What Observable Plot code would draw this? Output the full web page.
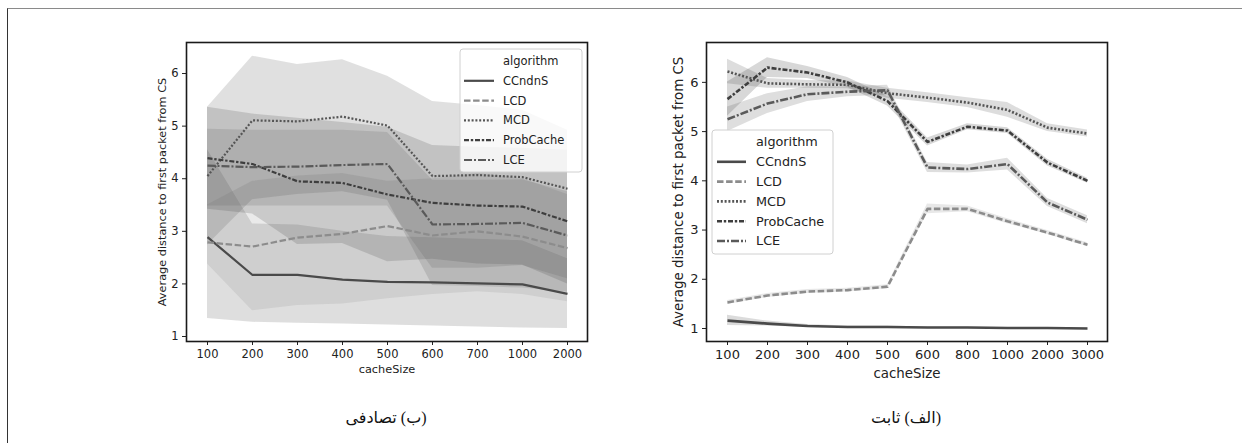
<!DOCTYPE html>
<html>
<head>
<meta charset="utf-8">
<script src="https://cdn.jsdelivr.net/npm/d3@7"></script>
<script src="https://cdn.jsdelivr.net/npm/@observablehq/plot@0.6"></script>
<style>
  html, body { margin: 0; padding: 0; background: #fff; }
  #page { position: relative; width: 1242px; height: 443px; overflow: hidden; background: #fff; }
  #frame { position: absolute; left: 7px; top: 8px; width: 1240px; height: 440px;
           border-top: 1.5px solid #8a8a8a; border-left: 1.5px solid #333; }
  .panel { position: absolute; top: 0; }
  .caption { position: absolute; top: 408px; width: 300px; text-align: center; direction: rtl;
             font-family: "Liberation Serif", "DejaVu Serif", "DejaVu Sans", serif; font-size: 16px; color: #111; }
</style>
</head>
<body>
<div id="page">
  <div id="frame"></div>
  <div id="left" class="panel" style="left:100px"></div>
  <div id="right" class="panel" style="left:620px"></div>
  <div class="caption" style="left:236px">(ب) تصادفی</div>
  <div class="caption" style="left:756px">(الف) ثابت</div>
</div>
<script>
// ---------- data ----------
const algorithms = ["CCndnS", "LCD", "MCD", "ProbCache", "LCE"];
const yTicks = [1, 2, 3, 4, 5, 6];
const yLabel = "Average distance to first packet from CS";
const xLabel = "cacheSize";
const legendTitle = "algorithm";

// left panel (random placement)
const cacheLeft = ["100", "200", "300", "400", "500", "600", "700", "1000", "2000"];
const randCCndnS   = [2.89, 2.17, 2.17, 2.08, 2.04, 2.03, 2.01, 1.99, 1.81];
const randCCndnSLo = [1.34, 1.27, 1.25, 1.24, 1.22, 1.20, 1.18, 1.16, 1.15];
const randCCndnSHi = [4.55, 3.14, 3.12, 3.00, 2.90, 2.88, 2.85, 2.82, 2.48];
const randLCD      = [2.79, 2.71, 2.88, 2.95, 3.10, 2.92, 3.00, 2.90, 2.68];
const randLCDLo    = [2.38, 1.49, 1.59, 1.62, 1.72, 1.80, 1.85, 1.80, 1.66];
const randLCDHi    = [3.50, 3.95, 4.05, 4.10, 3.95, 4.00, 4.10, 4.00, 3.70];
const randMCD      = [4.05, 5.11, 5.09, 5.18, 5.01, 4.05, 4.07, 4.03, 3.81];
const randMCDLo    = [2.74, 3.60, 3.70, 3.75, 3.59, 1.97, 1.95, 1.92, 1.84];
const randMCDHi    = [5.36, 6.33, 6.17, 6.26, 5.95, 5.47, 5.39, 5.30, 4.92];
const randProb     = [4.39, 4.28, 3.95, 3.92, 3.70, 3.54, 3.49, 3.47, 3.19];
const randProbLo   = [3.42, 3.33, 2.75, 2.77, 2.42, 2.47, 2.38, 2.36, 2.00];
const randProbHi   = [5.36, 5.23, 5.15, 5.07, 4.98, 4.63, 4.60, 4.58, 4.54];
const randLCE      = [4.25, 4.22, 4.23, 4.26, 4.28, 3.13, 3.14, 3.16, 2.92];
const randLCELo    = [3.48, 3.48, 3.48, 3.48, 3.48, 2.30, 2.30, 2.35, 2.10];
const randLCEHi    = [4.94, 4.92, 4.92, 4.92, 4.88, 3.97, 3.97, 3.98, 3.75];

// right panel (fixed placement)
const cacheRight = ["100", "200", "300", "400", "500", "600", "800", "1000", "2000", "3000"];
const fixCCndnS   = [1.16, 1.10, 1.05, 1.03, 1.03, 1.02, 1.02, 1.01, 1.01, 1.00];
const fixCCndnSLo = [1.06, 1.05, 1.02, 1.01, 1.01, 1.01, 1.01, 1.00, 1.00, 0.99];
const fixCCndnSHi = [1.27, 1.15, 1.08, 1.05, 1.05, 1.03, 1.03, 1.02, 1.02, 1.01];
const fixLCD      = [1.53, 1.67, 1.75, 1.78, 1.85, 3.43, 3.43, 3.18, 2.95, 2.70];
const fixLCDLo    = [1.49, 1.63, 1.71, 1.74, 1.81, 3.33, 3.37, 3.13, 2.91, 2.66];
const fixLCDHi    = [1.57, 1.71, 1.79, 1.82, 1.89, 3.53, 3.49, 3.23, 2.99, 2.74];
const fixMCD      = [6.22, 5.98, 5.96, 5.95, 5.78, 5.69, 5.59, 5.44, 5.08, 4.96];
const fixMCDLo    = [5.97, 5.88, 5.88, 5.87, 5.68, 5.59, 5.49, 5.29, 5.00, 4.89];
const fixMCDHi    = [6.47, 6.08, 6.04, 6.03, 5.88, 5.79, 5.69, 5.59, 5.16, 5.03];
const fixProb     = [5.66, 6.30, 6.20, 6.00, 5.62, 4.79, 5.10, 5.02, 4.37, 4.00];
const fixProbLo   = [5.31, 6.10, 6.08, 5.90, 5.52, 4.71, 5.04, 4.96, 4.30, 3.95];
const fixProbHi   = [6.01, 6.50, 6.32, 6.10, 5.72, 4.87, 5.16, 5.08, 4.44, 4.05];
const fixLCE      = [5.25, 5.57, 5.76, 5.81, 5.84, 4.27, 4.24, 4.34, 3.56, 3.21];
const fixLCELo    = [5.00, 5.37, 5.61, 5.71, 5.74, 4.17, 4.16, 4.22, 3.48, 3.13];
const fixLCEHi    = [5.50, 5.77, 5.91, 5.91, 5.94, 4.37, 4.32, 4.46, 3.64, 3.29];

// ---------- styles ----------
const styles = {
  CCndnS:    {stroke: "#4a4a4a", dash: "none"},
  LCD:       {stroke: "#8c8c8c", dash: "6.5,2.6"},
  MCD:       {stroke: "#555555", dash: "2,1.8"},
  ProbCache: {stroke: "#3e3e3e", dash: "5,1.8,2.4,1.8"},
  LCE:       {stroke: "#5a5a5a", dash: "8,2,2,2"}
};

function rows(cats, mean, lo, hi) {
  return cats.map((c, i) => ({cat: c, mean: mean[i], lo: lo[i], hi: hi[i]}));
}

const leftSeries = {
  CCndnS: rows(cacheLeft, randCCndnS, randCCndnSLo, randCCndnSHi),
  LCD: rows(cacheLeft, randLCD, randLCDLo, randLCDHi),
  MCD: rows(cacheLeft, randMCD, randMCDLo, randMCDHi),
  ProbCache: rows(cacheLeft, randProb, randProbLo, randProbHi),
  LCE: rows(cacheLeft, randLCE, randLCELo, randLCEHi)
};
const rightSeries = {
  CCndnS: rows(cacheRight, fixCCndnS, fixCCndnSLo, fixCCndnSHi),
  LCD: rows(cacheRight, fixLCD, fixLCDLo, fixLCDHi),
  MCD: rows(cacheRight, fixMCD, fixMCDLo, fixMCDHi),
  ProbCache: rows(cacheRight, fixProb, fixProbLo, fixProbHi),
  LCE: rows(cacheRight, fixLCE, fixLCELo, fixLCEHi)
};

function makePanel(cfg) {
  const marks = [];
  for (const a of algorithms) {
    marks.push(Plot.areaY(cfg.series[a], {x: "cat", y1: "lo", y2: "hi",
      fill: styles[a].stroke, fillOpacity: cfg.bandOpacity}));
  }
  for (const a of algorithms) {
    marks.push(Plot.line(cfg.series[a], {x: "cat", y: "mean", stroke: styles[a].stroke,
      strokeWidth: cfg.lineWidth, strokeDasharray: styles[a].dash, strokeLinecap: "butt",
      className: "ser-" + a}));
  }
  marks.push(Plot.frame({stroke: "#1a1a1a", strokeWidth: 1.6}));
  marks.push(Plot.text([yLabel], {frameAnchor: "left", rotate: -90, dx: cfg.yLabelDx,
    text: d => d, fontSize: cfg.labelSize, fill: "#222", textAnchor: "middle", lineAnchor: "middle"}));
  marks.push(Plot.text([xLabel], {frameAnchor: "bottom", dy: cfg.xLabelDy,
    text: d => d, fontSize: cfg.labelSize, fill: "#222", textAnchor: "middle", lineAnchor: "middle"}));

  const svg = Plot.plot({
    width: 500, height: 380,
    marginLeft: 86, marginRight: 13, marginTop: 42, marginBottom: 39,
    style: {fontFamily: "DejaVu Sans, sans-serif", fontSize: cfg.tickSize + "px", color: "#222", background: "transparent"},
    x: {type: "point", domain: cfg.cats, padding: cfg.xPadding, label: null, tickSize: 4, tickPadding: 4},
    y: {domain: cfg.yDomain, ticks: yTicks, label: null, tickSize: 4, tickPadding: 4, tickFormat: d3.format("d")},
    marks
  });

  for (const a of algorithms) {
    d3.select(svg).selectAll(".ser-" + a + " path, path.ser-" + a)
      .attr("stroke-dasharray", styles[a].dash).attr("stroke-linecap", "butt");
  }

  // legend
  const L = cfg.legend;
  const g = d3.select(svg).append("g").attr("font-family", "DejaVu Sans, sans-serif")
    .attr("font-size", cfg.legendFont + "px").attr("text-anchor", "start");
  g.append("rect").attr("x", L.x).attr("y", L.y).attr("width", L.w).attr("height", L.h)
    .attr("rx", 3).attr("fill", "#fff").attr("fill-opacity", 0.8)
    .attr("stroke", "#d0d0d0").attr("stroke-width", 1);
  const entries = [legendTitle, ...algorithms];
  entries.forEach((e, i) => {
    const cy = L.firstY + i * L.step;
    if (i > 0) {
      const st = styles[e];
      g.append("line").attr("x1", L.x + L.lineX0).attr("x2", L.x + L.lineX1)
        .attr("y1", cy).attr("y2", cy).attr("stroke", st.stroke).attr("stroke-width", cfg.lineWidth)
        .attr("stroke-dasharray", st.dash);
    }
    g.append("text").attr("x", L.x + L.textX).attr("y", cy).attr("dy", "0.35em")
      .attr("text-anchor", "start").attr("fill", "#222").text(e);
  });
  return svg;
}

document.getElementById("left").appendChild(makePanel({
  series: leftSeries, cats: cacheLeft, xPadding: 0.4, yDomain: [0.905, 6.59],
  bandOpacity: 0.18, lineWidth: 2.2, tickSize: 11.5, labelSize: 11.3,
  yLabelDx: -24.5, xLabelDy: 28, legendFont: 11.5,
  legend: {x: 360, y: 49, w: 122, h: 123, firstY: 61, step: 19.8, lineX0: 4, lineX1: 34, textX: 43}
}));

document.getElementById("right").appendChild(makePanel({
  series: rightSeries, cats: cacheRight, xPadding: 0.44, yDomain: [0.736, 6.81],
  bandOpacity: 0.2, lineWidth: 2.6, tickSize: 13, labelSize: 13.4,
  yLabelDx: -28, xLabelDy: 32, legendFont: 12.8,
  legend: {x: 92, y: 130, w: 121, h: 124, firstY: 142, step: 19.8, lineX0: 5, lineX1: 34, textX: 44}
}));
</script>
</body>
</html>
